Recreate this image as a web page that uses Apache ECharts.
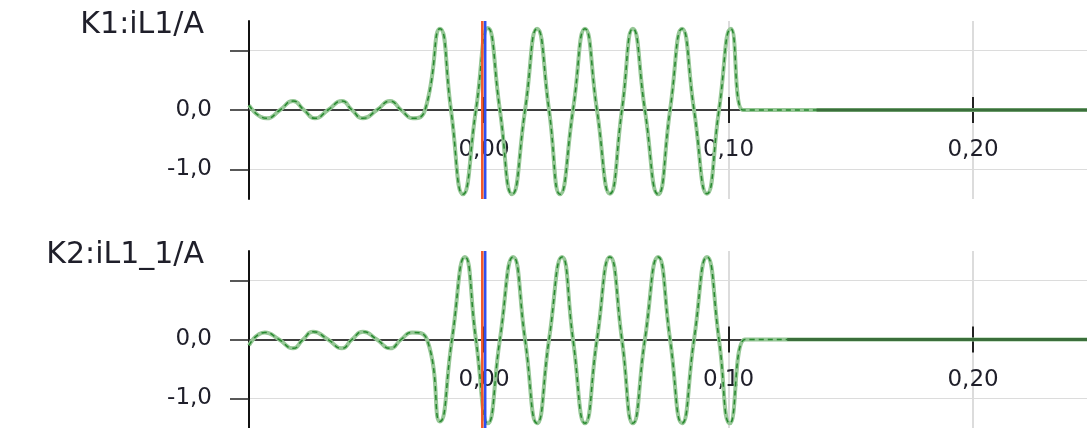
<!DOCTYPE html>
<html>
<head>
<meta charset="utf-8">
<script src="https://cdn.jsdelivr.net/npm/echarts@6/dist/echarts.min.js"></script>
<style>
  html, body { margin: 0; padding: 0; background: #fff; }
  #chart { width: 1087px; height: 428px; }
</style>
</head>
<body>
<div id="chart"></div>
<script>
// channel titles
const titles = ['K1:iL1/A', 'K2:iL1_1/A']

// time axis (s) and ticks
const timeMin = -0.0961
const timeMax = 0.2466
const timeTicks = [0, 0.1, 0.2]
const valueMin = -1.5
const valueMax = 1.5
const valueTicks = [-1, 0, 1]
const valueLabels = [-1, 0]

// cursors (s)
const cursorRed = -0.0007
const cursorBlue = 0.0005

// K1 trace: times and values read at extremes / zero crossings
const k1Time = [
  -0.0961, -0.0888, -0.0834, -0.0781, -0.0736, -0.0691, -0.0638, -0.0581, -0.0540,
  -0.0495, -0.0438, -0.0384, -0.0339, -0.0290, -0.0241,
  -0.0180, -0.0135, -0.0086, -0.0033, 0.0016, 0.0065, 0.0115, 0.0168, 0.0217,
  0.0266, 0.0311, 0.0364, 0.0413, 0.0462, 0.0515, 0.0564, 0.0609, 0.0658,
  0.0712, 0.0761, 0.0810, 0.0859, 0.0912, 0.0961, 0.1010, 0.1059, 0.1090, 0.2466
]
const k1Value = [
  0.08, -0.14, 0, 0.15, 0, -0.14, 0, 0.15, 0,
  -0.14, 0, 0.15, 0, -0.14, 0,
  1.37, 0, -1.42, 0, 1.38, 0, -1.42, 0, 1.37,
  0, -1.42, 0, 1.37, 0, -1.41, 0, 1.37, 0,
  -1.42, 0, 1.37, 0, -1.41, 0, 1.37, 0, 0, 0
]

// K2 trace
const k2Time = [
  -0.0961, -0.0896, -0.0838, -0.0781, -0.0740, -0.0699, -0.0638, -0.0581, -0.0540,
  -0.0495, -0.0438, -0.0384, -0.0339, -0.0294, -0.0233,
  -0.0180, -0.0131, -0.0078, -0.0033, 0.0016, 0.0065, 0.0119, 0.0168, 0.0217,
  0.0266, 0.0319, 0.0364, 0.0413, 0.0462, 0.0515, 0.0564, 0.0609, 0.0658,
  0.0712, 0.0761, 0.0810, 0.0859, 0.0912, 0.0961, 0.1006, 0.1067, 0.1100, 0.2466
]
const k2Value = [
  -0.10, 0.12, 0, -0.15, 0, 0.13, 0, -0.15, 0,
  0.13, 0, -0.15, 0, 0.12, 0,
  -1.39, 0, 1.40, 0, -1.42, 0, 1.40, 0, -1.42,
  0, 1.40, 0, -1.42, 0, 1.40, 0, -1.42, 0,
  1.40, 0, -1.42, 0, 1.40, 0, -1.42, 0, 0, 0
]

// flat dark tails
const k1TailTime = [0.136, 0.2466]
const k1TailValue = [0, 0]
const k2TailTime = [0.124, 0.2466]
const k2TailValue = [0, 0]

const zip = (a, b) => a.map((t, i) => [t, b[i]])
const fmt = (v, d) => v.toFixed(d).replace('.', ',')

const FONT = 'DejaVu Sans'
const TEXT = '#1f1f2a'
const grids = [
  { left: 249, right: 0, top: 21, height: 178, outerBoundsMode: 'none' },
  { left: 249, right: 0, top: 251, height: 177, outerBoundsMode: 'none' }
]

const chart = echarts.init(document.getElementById('chart'))

const xAxis = []
const yAxis = []
const series = []
const title = []
const traces = [
  [k1Time, k1Value, k1TailTime, k1TailValue],
  [k2Time, k2Value, k2TailTime, k2TailValue]
]

grids.forEach((g, i) => {
  // distance of the zero line from the grid's bottom / top edge
  const fromBottom = g.height * (0 - valueMin) / (valueMax - valueMin)
  const fromTop = g.height - fromBottom

  title.push({
    text: titles[i],
    right: 883,
    top: g.top - 11,
    padding: 0,
    textStyle: { fontFamily: FONT, fontSize: 30, fontWeight: 'normal', color: TEXT }
  })
  // lower half of the crossing ticks + labels
  xAxis.push({
    type: 'value', gridIndex: i, min: timeMin, max: timeMax, position: 'bottom',
    offset: -fromBottom,
    axisLine: { onZero: false, lineStyle: { color: '#333', width: 1.5 } },
    axisTick: { customValues: timeTicks, length: 13, lineStyle: { color: '#222', width: 2 } },
    axisLabel: {
      customValues: timeTicks, margin: 29, fontFamily: FONT, fontSize: 23, color: TEXT,
      formatter: v => fmt(v, 2)
    },
    splitLine: { show: true, lineStyle: { color: '#dcdcdc', width: 2 } }
  })
  // upper half of the crossing ticks
  xAxis.push({
    type: 'value', gridIndex: i, min: timeMin, max: timeMax, position: 'top',
    offset: -fromTop,
    axisLine: { onZero: false, lineStyle: { color: '#333', width: 1.5 } },
    axisTick: { customValues: timeTicks, length: 13, lineStyle: { color: '#222', width: 2 } },
    axisLabel: { show: false },
    splitLine: { show: false }
  })
  yAxis.push({
    type: 'value', gridIndex: i, min: valueMin, max: valueMax,
    axisLine: { show: true, onZero: false, lineStyle: { color: '#111', width: 2 } },
    axisTick: { show: true, customValues: valueTicks, length: 19, lineStyle: { color: '#222', width: 1.5 } },
    axisLabel: {
      customValues: valueLabels, margin: 37, fontFamily: FONT, fontSize: 23, color: TEXT,
      formatter: v => fmt(v, 1)
    },
    splitLine: { show: true, lineStyle: { color: '#dcdcdc', width: 1 } }
  })

  const [tt, vv, tailT, tailV] = traces[i]
  series.push({
    name: titles[i], type: 'line', xAxisIndex: i * 2, yAxisIndex: i,
    data: zip(tt, vv), smooth: 0.55, showSymbol: false,
    lineStyle: { color: '#96c796', width: 4 },
    z: 3
  })
  series.push({
    type: 'line', xAxisIndex: i * 2, yAxisIndex: i,
    data: zip(tt, vv), smooth: 0.55, showSymbol: false,
    lineStyle: { color: '#27882f', width: 1.5, type: [5, 4] },
    z: 4
  })
  series.push({
    type: 'line', xAxisIndex: i * 2, yAxisIndex: i,
    data: zip(tailT, tailV), showSymbol: false,
    lineStyle: { color: '#3b6e3b', width: 3 },
    z: 4
  })
  // cursor lines spanning the full value range
  series.push({
    type: 'line', xAxisIndex: i * 2, yAxisIndex: i,
    data: [[cursorRed, valueMin], [cursorRed, valueMax]], showSymbol: false,
    lineStyle: { color: '#f2582c', width: 2.5 }, z: 6
  })
  series.push({
    type: 'line', xAxisIndex: i * 2, yAxisIndex: i,
    data: [[cursorBlue, valueMin], [cursorBlue, valueMax]], showSymbol: false,
    lineStyle: { color: '#2f4ff0', width: 2.5 }, z: 6
  })
})

chart.setOption({
  animation: false,
  backgroundColor: '#fff',
  title: title,
  grid: grids,
  xAxis: xAxis,
  yAxis: yAxis,
  series: series
})
</script>
</body>
</html>
